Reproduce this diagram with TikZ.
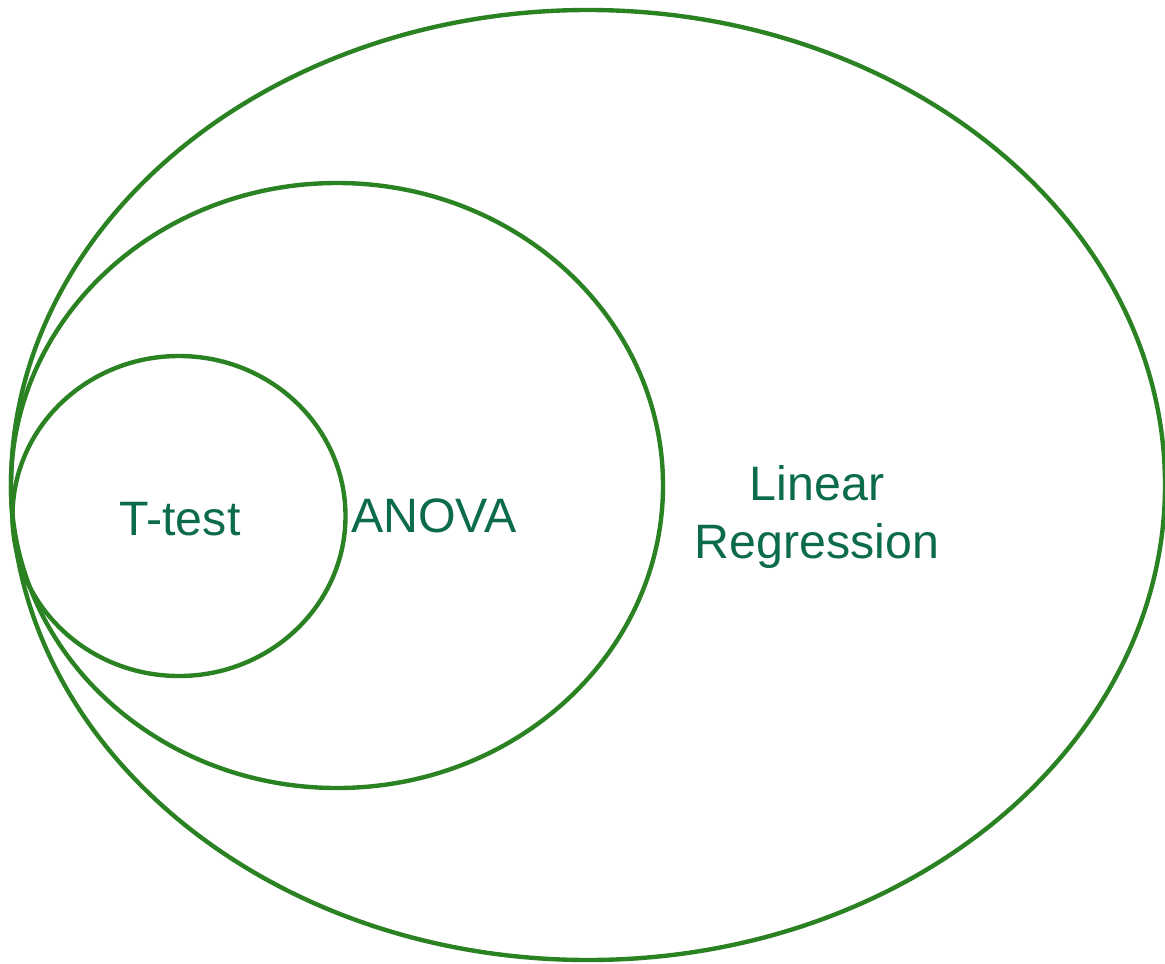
\documentclass[tikz,border=0pt]{standalone}
\usepackage{fontspec}
\setmainfont{Liberation Sans}
\definecolor{ringgreen}{HTML}{2A8223}
\definecolor{labelgreen}{HTML}{0B6B4A}
\tikzset{
	ring/.style={draw=ringgreen,line width=2.5pt},
	setlabel/.style={text=labelgreen,font=\fontsize{27.5}{32.5}\selectfont,align=center,inner sep=0pt}
}
\begin{document}
\begin{tikzpicture}[x=0.02cm,y=-0.02cm]
			\useasboundingbox (0,0) rectangle (1165,963);
			%Centres of the three sets
			\coordinate (cLin) at (588,485);
			\coordinate (cAno) at (337,485.5);
			\coordinate (cTt) at (179,516);
			%Outer set
			\draw[ring] (cLin) ellipse (577 and 475);
			%Middle set
			\draw[ring] (cAno) ellipse (326 and 302.5);
			%Inner set
			\draw[ring] (cTt) ellipse (166.5 and 160);
			%Labels
			\node[setlabel] (ttest) at (180,519) {T-test};
			\node[setlabel] (anova) at (434,516) {ANOVA};
			\node[setlabel] (linreg) at (817,517) {Linear\\Regression};
\end{tikzpicture}
\end{document}
